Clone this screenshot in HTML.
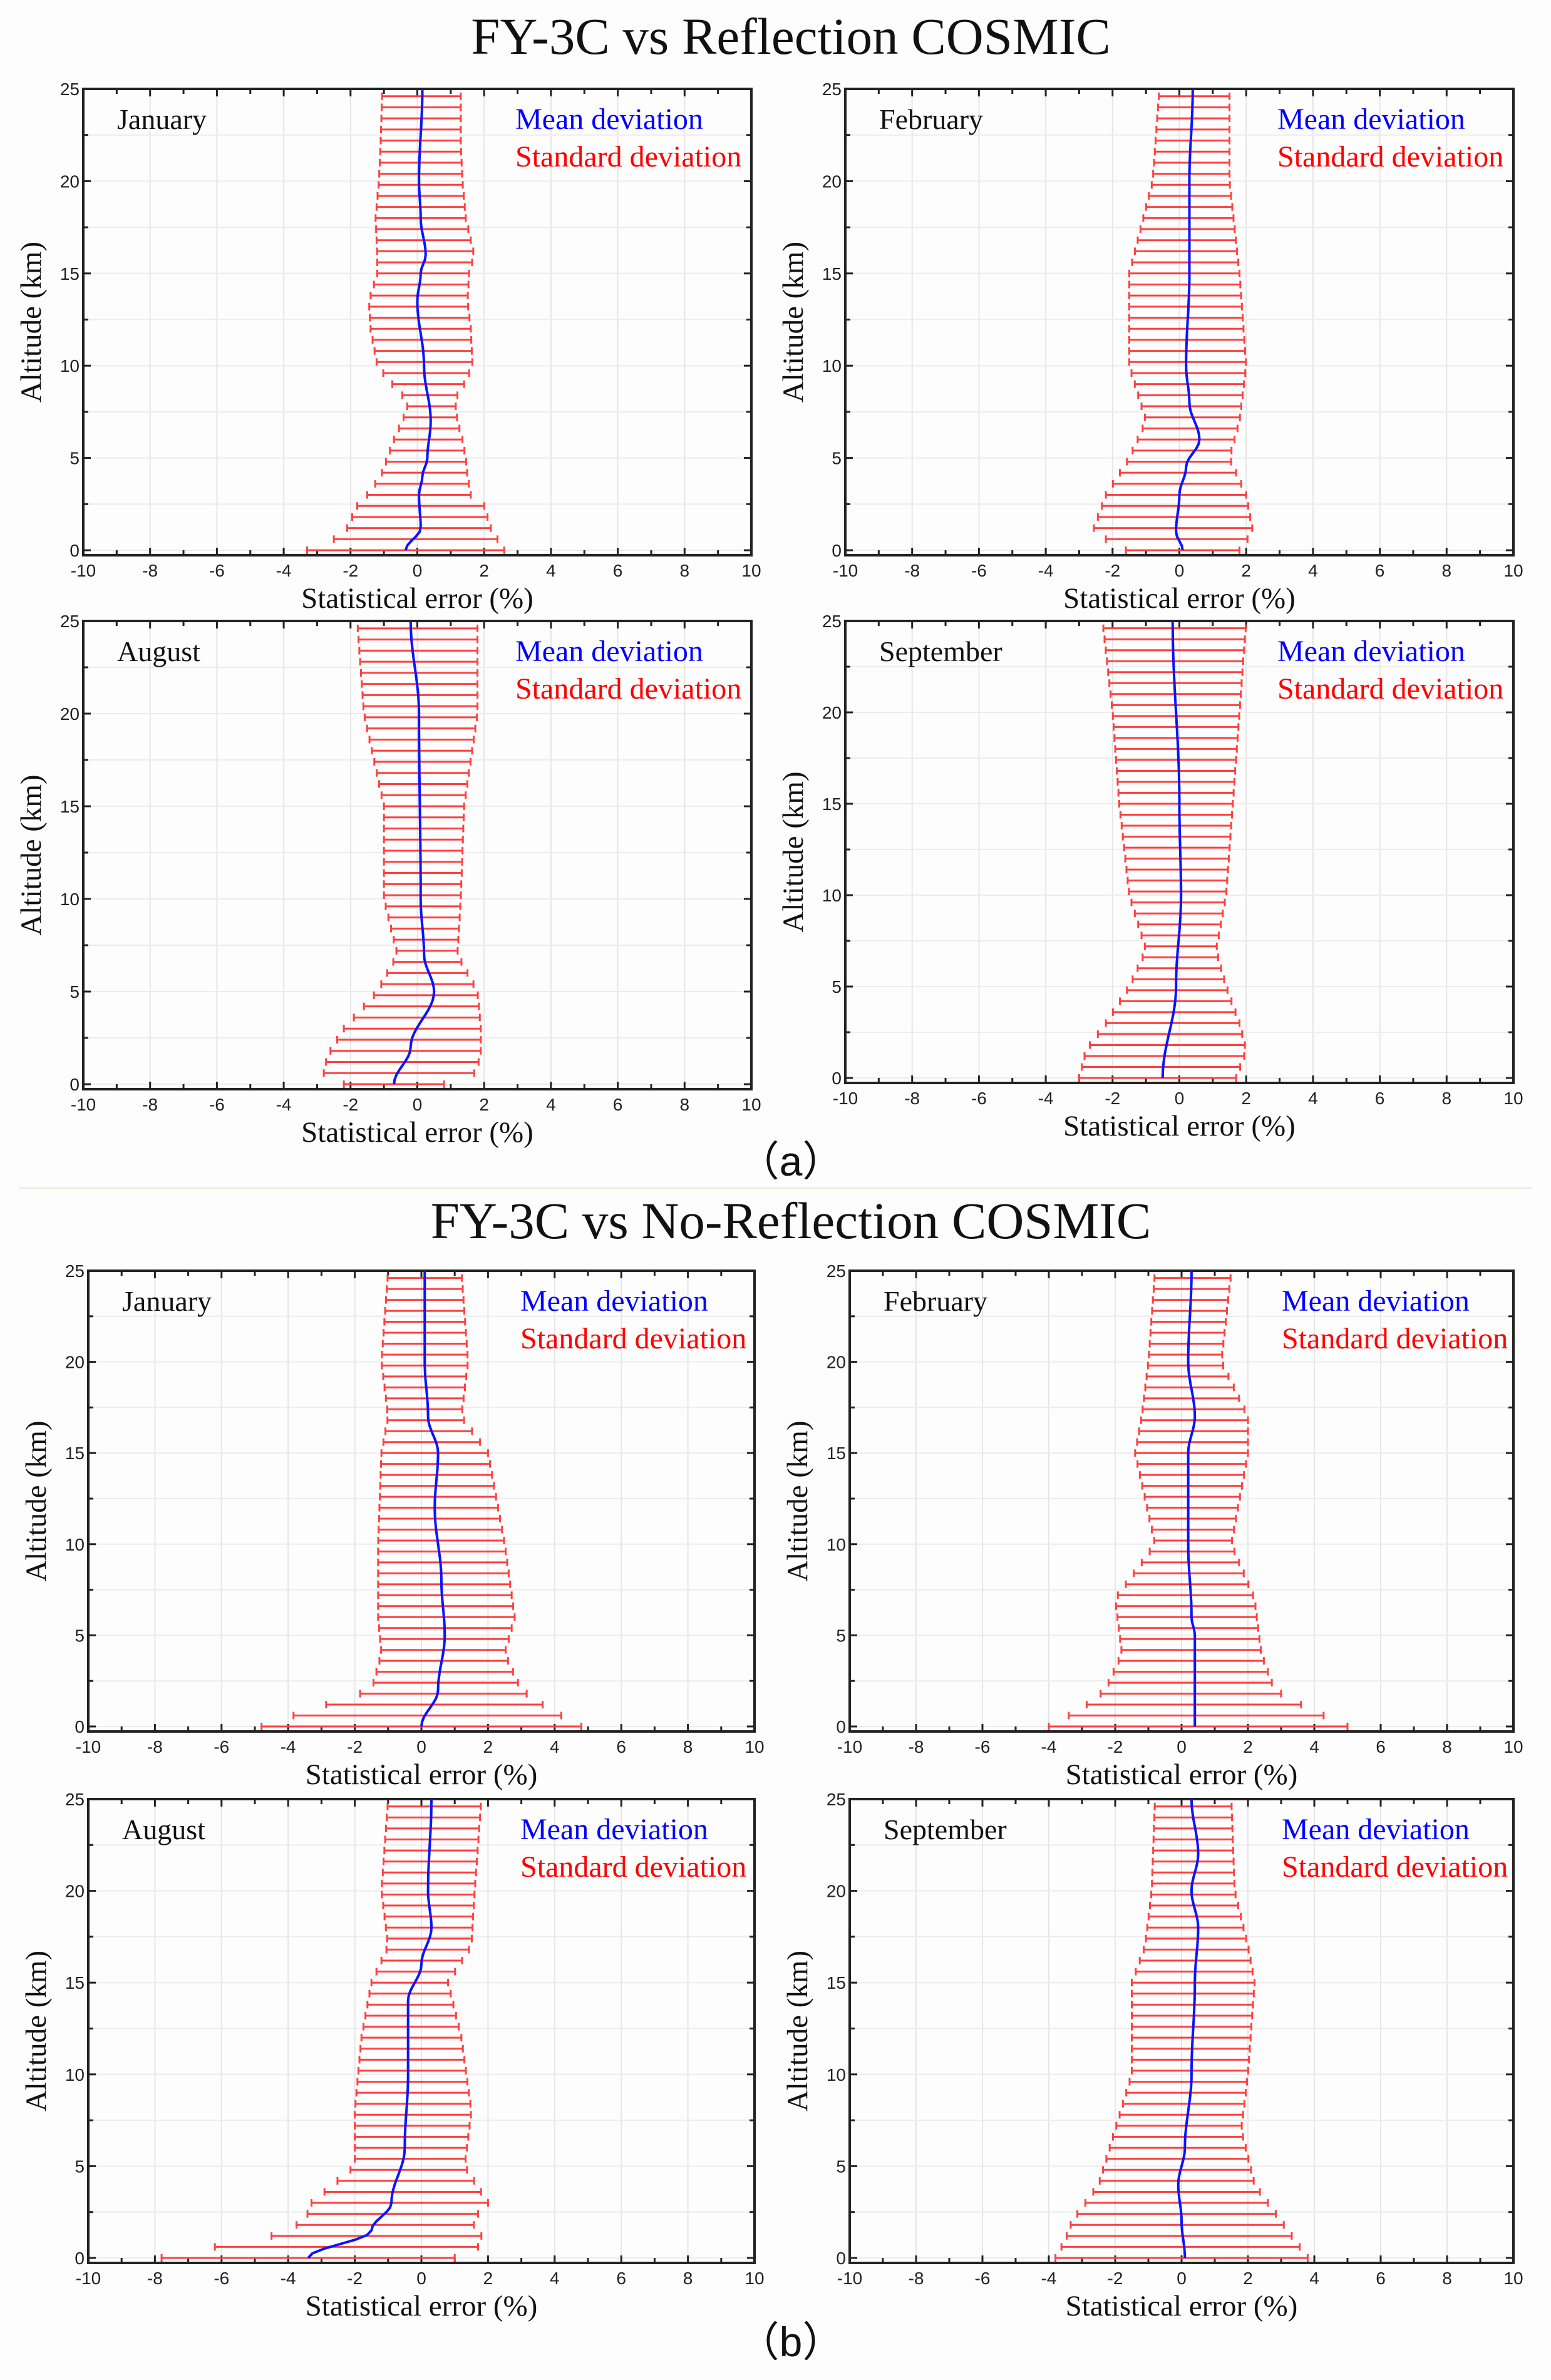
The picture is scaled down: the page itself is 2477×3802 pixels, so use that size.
<!DOCTYPE html>
<html><head><meta charset="utf-8"><style>
html,body{margin:0;padding:0;background:#fdfdfd;}
svg{display:block}
</style></head><body>
<svg id="s" xmlns="http://www.w3.org/2000/svg" width="2477" height="3802" viewBox="0 0 2477 3802"></svg>
<script>
const S=document.getElementById('s');
let h='<rect width="2477" height="3802" fill="#fdfdfd"/>';
h+='<text x="1263" y="86" font-family="Liberation Serif,serif" font-size="83" text-anchor="middle" fill="#111">FY-3C vs Reflection COSMIC</text>';
h+='<text x="1263" y="1978" font-family="Liberation Serif,serif" font-size="83" text-anchor="middle" fill="#111">FY-3C vs No-Reflection COSMIC</text>';
h+='<text x="1263" y="1878" font-family="Liberation Sans,sans-serif" font-size="66" text-anchor="middle" fill="#111">（a）</text>';
h+='<text x="1263" y="3764" font-family="Liberation Sans,sans-serif" font-size="66" text-anchor="middle" fill="#111">（b）</text>';
h+='<line x1="30" y1="1898" x2="2447" y2="1898" stroke="#eeeedd" stroke-width="3"/>';
function interp(pts,a,k){for(let i=0;i<pts.length-1;i++){if(a>=pts[i][0]&&a<=pts[i+1][0]){let t=(a-pts[i][0])/(pts[i+1][0]-pts[i][0]);if(k==1&&pts[0].length==2)t=(1-Math.cos(Math.PI*t))/2;return pts[i][k]+(pts[i+1][k]-pts[i][k])*t;}}return pts[pts.length-1][k];}
function panel(L,R,T,Y0,month,mean,bars){
 const X=v=>L+(v+10)/20*(R-L), Y=a=>Y0-(a/25)*(Y0-T), B=Y0+8;
 let g='';
 for(let v=-10;v<=10;v+=2)g+=`<line x1="${X(v)}" y1="${T}" x2="${X(v)}" y2="${B}" stroke="#e6e6e6" stroke-width="2"/>`;
 for(let a=0;a<=25;a+=2.5)g+=`<line x1="${L}" y1="${Y(a)}" x2="${R}" y2="${Y(a)}" stroke="#ececec" stroke-width="2"/>`;
 for(let v=-10;v<=10;v+=1){const l=v%2==0?12:8;g+=`<line x1="${X(v)}" y1="${B}" x2="${X(v)}" y2="${B-l}" stroke="#222" stroke-width="3"/><line x1="${X(v)}" y1="${T}" x2="${X(v)}" y2="${T+l}" stroke="#222" stroke-width="3"/>`;}
 for(let a=0;a<=25;a+=2.5){const l=a%5==0?12:8;g+=`<line x1="${L}" y1="${Y(a)}" x2="${L+l}" y2="${Y(a)}" stroke="#222" stroke-width="3"/><line x1="${R}" y1="${Y(a)}" x2="${R-l}" y2="${Y(a)}" stroke="#222" stroke-width="3"/>`;}
 g+=`<rect x="${L}" y="${T}" width="${R-L}" height="${B-T}" fill="none" stroke="#222" stroke-width="4"/>`;
 for(let v=-10;v<=10;v+=2)g+=`<text x="${X(v)}" y="${B+34}" font-family="Liberation Sans,sans-serif" font-size="28" text-anchor="middle" fill="#222">${v}</text>`;
 for(let a=0;a<=25;a+=5)g+=`<text x="${L-6}" y="${Y(a)+10}" font-family="Liberation Sans,sans-serif" font-size="28" text-anchor="end" fill="#222">${a}</text>`;
 g+=`<text x="${(L+R)/2}" y="${B+84}" font-family="Liberation Serif,serif" font-size="47" text-anchor="middle" fill="#111">Statistical error (%)</text>`;
 g+=`<text transform="translate(${L-68},${(T+B)/2}) rotate(-90)" font-family="Liberation Serif,serif" font-size="47" text-anchor="middle" fill="#111">Altitude (km)</text>`;
 g+=`<text x="${L+54}" y="${T+64}" font-family="Liberation Serif,serif" font-size="46" fill="#111">${month}</text>`;
 g+=`<text x="${L+690}" y="${T+64}" font-family="Liberation Serif,serif" font-size="48" fill="#0000ff">Mean deviation</text>`;
 g+=`<text x="${L+690}" y="${T+124}" font-family="Liberation Serif,serif" font-size="48" fill="#ff0000">Standard deviation</text>`;
 for(let a=0;a<=24.7;a+=0.6){const lo=interp(bars,a,1),hi=interp(bars,a,2),y=Y(a);
  g+=`<line x1="${X(lo)}" y1="${y}" x2="${X(hi)}" y2="${y}" stroke="#ff4040" stroke-width="3"/><line x1="${X(lo)}" y1="${y-6}" x2="${X(lo)}" y2="${y+6}" stroke="#ff4040" stroke-width="3"/><line x1="${X(hi)}" y1="${y-6}" x2="${X(hi)}" y2="${y+6}" stroke="#ff4040" stroke-width="3"/>`;}
 let p='';for(let a=0;a<=25.001;a+=0.25){p+=(p?' L':'M')+X(interp(mean,a,1)).toFixed(1)+' '+Y(a).toFixed(1);}
 g+=`<path d="${p}" fill="none" stroke="#0a14ff" stroke-width="4"/>`;
 return g;}
const P=[
[133,1200,142,879,'January',[[0,-0.35],[1.2,0.1],[3,0.05],[4,0.15],[5,0.3],[7,0.4],[10,0.2],[13.5,0],[15,0.1],[16,0.25],[18,0.1],[20,0.05],[25,0.15]],
 [[0,-3.3,2.6],[0.6,-2.5,2.4],[1.2,-2.1,2.2],[2.4,-1.8,2.0],[3,-1.5,1.6],[4,-1.1,1.5],[5,-0.9,1.45],[6,-0.7,1.35],[7,-0.45,1.2],[7.8,-0.3,1.15],[8.4,-0.45,1.2],[9,-0.75,1.4],[10,-1.2,1.65],[12,-1.4,1.6],[13.5,-1.45,1.5],[15,-1.2,1.55],[16,-1.2,1.7],[18,-1.25,1.45],[20,-1.15,1.35],[22,-1.1,1.3],[25,-1.05,1.3]]],
[1350,2417,142,879,'February',[[0,0.1],[1,-0.1],[3,0],[4.5,0.2],[6,0.6],[8,0.3],[10,0.2],[15,0.3],[20,0.3],[25,0.4]],
 [[0,-1.6,1.8],[1,-2.6,2.2],[3,-2.2,2.0],[5,-1.5,1.5],[7,-1.0,1.8],[10,-1.5,2.0],[15,-1.5,1.8],[20,-0.8,1.5],[25,-0.6,1.5]]],
[133,1200,992,1732,'August',[[0,-0.7],[2,-0.2],[5,0.5],[7,0.2],[10,0.1],[20,0.05],[25,-0.2]],
 [[0,-2.2,0.8],[0.6,-2.8,1.7],[1.5,-2.7,1.9],[3,-2.2,1.9],[5,-1.2,1.8],[7,-0.6,1.2],[10,-1.0,1.3],[15,-1.0,1.4],[20,-1.6,1.8],[25,-1.8,1.8]]],
[1350,2417,992,1722,'September',[[0,-0.5],[5,-0.1],[10,0.05],[15,0],[25,-0.2]],
 [[0,-3.0,1.7],[1.5,-2.8,2.0],[3,-2.2,1.8],[5,-1.5,1.4],[7,-1.0,1.1],[10,-1.5,1.4],[15,-1.8,1.6],[20,-2.0,1.8],[25,-2.3,2.0]]],
[141,1205,2030,2758,'January',[[0,0],[2,0.5],[5,0.7],[8,0.6],[12,0.4],[15,0.5],[17,0.2],[20,0.1],[25,0.1]],
 [[0,-4.8,4.8],[1,-3.2,3.8],[2,-1.5,3.0],[4,-1.2,2.5],[6,-1.3,2.8],[10,-1.3,2.5],[15,-1.2,2.0],[17,-1.0,1.2],[20,-1.2,1.4],[25,-1.0,1.2]]],
[1357,2417,2030,2758,'February',[[0,0.4],[5,0.4],[6,0.3],[10,0.2],[15,0.2],[17,0.4],[20,0.2],[25,0.3]],
 [[0,-4.0,5.0],[1,-3.0,3.8],[2,-2.3,2.8],[4,-1.8,2.4],[7,-2.0,2.2],[10,-0.8,1.5],[15,-1.4,2.0],[17,-1.2,2.0],[20,-1.0,1.2],[25,-0.8,1.5]]],
[141,1205,2874,3607,'August',[[0,-3.4],[1.5,-1.5],[3,-0.9],[6,-0.5],[10,-0.4],[14,-0.4],[16,0],[18,0.3],[20,0.2],[25,0.3]],
 [[0,-7.8,1.0],[0.6,-6.2,1.7],[1.2,-4.5,1.8],[2,-3.5,1.5],[3,-3.3,2.0],[5,-2.0,1.3],[8,-2.0,1.5],[12,-1.8,1.2],[15,-1.5,0.8],[17,-1.0,1.5],[20,-1.2,1.6],[25,-1.0,1.8]]],
[1357,2417,2874,3607,'September',[[0,0.1],[2,0],[4,-0.1],[6,0.1],[10,0.3],[15,0.4],[18,0.5],[20,0.3],[22,0.5],[25,0.3]],
 [[0,-3.8,3.8],[1,-3.5,3.4],[2,-3.3,3.0],[4,-2.5,2.2],[7,-2.0,1.8],[10,-1.5,2.0],[15,-1.5,2.2],[17,-1.1,2.0],[20,-0.9,1.6],[25,-0.8,1.5]]]
];
for(const q of P)h+=panel(...q);
S.innerHTML=h;
</script>
</body></html>
